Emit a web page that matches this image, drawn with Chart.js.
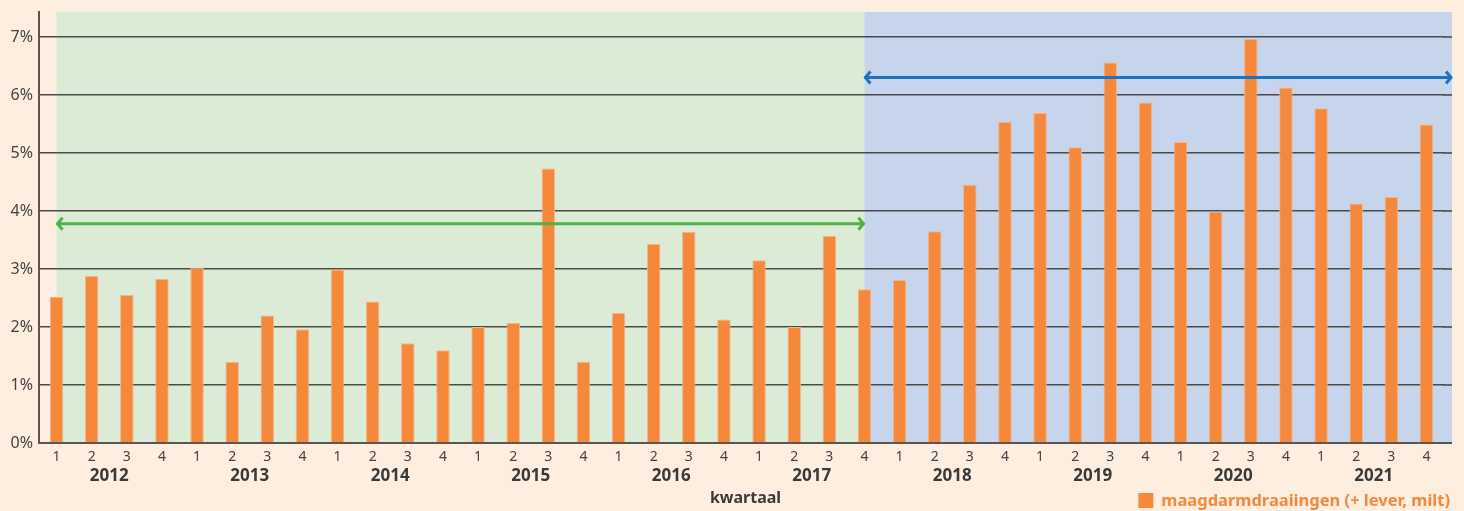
<!DOCTYPE html>
<html>
<head>
<meta charset="utf-8">
<script src="https://cdn.jsdelivr.net/npm/chart.js@4"></script>
<style>
  html, body { margin: 0; padding: 0; background: #fdeee0; }
  #wrap { width: 1464px; height: 511px; position: relative; }
</style>
</head>
<body>
<div id="wrap"><canvas id="myChart" width="1464" height="511"></canvas></div>
<script>
// kwartalen 2012 t/m 2021
const years = ['2012','2013','2014','2015','2016','2017','2018','2019','2020','2021'];
const quarters = ['1','2','3','4'];
const yTicks = [0,1,2,3,4,5,6,7];

// percentage maagdarmdraaiingen per kwartaal
const values = [
  2.52, 2.88, 2.55, 2.83,
  3.02, 1.40, 2.20, 1.96,
  2.99, 2.44, 1.72, 1.60,
  2.00, 2.07, 4.73, 1.40,
  2.24, 3.43, 3.64, 2.13,
  3.15, 2.00, 3.57, 2.65,
  2.81, 3.65, 4.45, 5.54,
  5.69, 5.10, 6.56, 5.87,
  5.19, 3.99, 6.97, 6.13,
  5.77, 4.13, 4.24, 5.49
];

// periode voor en na (index van het kwartaal waar de periode omslaat)
const splitIndex = 23;
const avgBefore = 3.78;
const avgAfter = 6.30;

const seriesLabel = 'maagdarmdraaiingen (+ lever, milt)';
const xTitle = 'kwartaal';

const labels = [];
years.forEach(y => quarters.forEach(q => labels.push(q)));

const FONT = '"Noto Sans", "Open Sans", sans-serif';
const ORANGE = '#f5883a';
const EXTRA = 8; // achtergrond en rasterlijnen lopen iets door na het laatste kwartaal

function arrow(ctx, x1, x2, y, color) {
  ctx.save();
  ctx.strokeStyle = color;
  ctx.lineWidth = 3;
  ctx.beginPath();
  ctx.moveTo(x1, y);
  ctx.lineTo(x2, y);
  ctx.stroke();
  ctx.beginPath();
  ctx.moveTo(x1 + 6, y - 6);
  ctx.lineTo(x1 + 1, y);
  ctx.lineTo(x1 + 6, y + 6);
  ctx.stroke();
  ctx.beginPath();
  ctx.moveTo(x2 - 6, y - 6);
  ctx.lineTo(x2 - 1, y);
  ctx.lineTo(x2 - 6, y + 6);
  ctx.stroke();
  ctx.restore();
}

const bgPlugin = {
  id: 'periods',
  beforeDraw(chart) {
    const {ctx, chartArea, scales} = chart;
    const x = scales.x;
    const x0 = x.getPixelForValue(0);
    const xs = x.getPixelForValue(splitIndex);
    ctx.save();
    ctx.fillStyle = '#dcebd5';
    ctx.fillRect(x0, chartArea.top, xs - x0, chartArea.bottom - chartArea.top);
    ctx.fillStyle = '#c7d5ec';
    ctx.fillRect(xs, chartArea.top, chartArea.right + EXTRA - xs, chartArea.bottom - chartArea.top);
    ctx.restore();
  },
  beforeDatasetsDraw(chart) {
    // rasterlijnen en x-as verlengen
    const {ctx, chartArea, scales} = chart;
    ctx.save();
    ctx.strokeStyle = '#4a4a4a';
    ctx.lineWidth = 1.6;
    yTicks.slice(1).forEach(v => {
      const py = scales.y.getPixelForValue(v);
      ctx.beginPath();
      ctx.moveTo(chartArea.right - 1, py);
      ctx.lineTo(chartArea.right + EXTRA, py);
      ctx.stroke();
    });
    ctx.strokeStyle = '#5a5452';
    ctx.lineWidth = 2;
    ctx.beginPath();
    ctx.moveTo(chartArea.right - 1, chartArea.bottom);
    ctx.lineTo(chartArea.right + EXTRA, chartArea.bottom);
    ctx.stroke();
    ctx.restore();
  },
  afterDatasetsDraw(chart) {
    const {ctx, chartArea, scales} = chart;
    const x = scales.x, y = scales.y;
    const x0 = x.getPixelForValue(0);
    const xs = x.getPixelForValue(splitIndex);
    arrow(ctx, x0, xs, y.getPixelForValue(avgBefore), '#52b04a');
    arrow(ctx, xs, chartArea.right + EXTRA, y.getPixelForValue(avgAfter), '#1b75bc');

    // jaartallen onder de kwartalen
    ctx.save();
    ctx.font = 'bold 17px ' + FONT;
    ctx.fillStyle = '#3a3a3a';
    ctx.textAlign = 'center';
    ctx.textBaseline = 'middle';
    years.forEach((yr, i) => {
      const cx = (x.getPixelForValue(i * 4 + 1) + x.getPixelForValue(i * 4 + 2)) / 2;
      ctx.fillText(yr, cx, chartArea.bottom + 33);
    });
    ctx.font = 'bold 16px ' + FONT;
    ctx.fillText(xTitle, (chartArea.left + chartArea.right + EXTRA) / 2, chartArea.bottom + 55);

    // legenda
    ctx.font = 'bold 16.5px ' + FONT;
    ctx.textAlign = 'right';
    ctx.fillStyle = ORANGE;
    const tx = chartArea.right + EXTRA - 2;
    const tw = ctx.measureText(seriesLabel).width;
    const ly = chartArea.bottom + 58;
    ctx.fillText(seriesLabel, tx, ly);
    ctx.fillRect(tx - tw - 23, ly - 8, 15, 15);
    ctx.restore();
  }
};

new Chart(document.getElementById('myChart'), {
  type: 'bar',
  data: {
    labels: labels,
    datasets: [{
      label: seriesLabel,
      data: values,
      backgroundColor: ORANGE,
      borderColor: '#f2b58c',
      borderWidth: 1,
      borderSkipped: 'bottom',
      barPercentage: 0.385,
      categoryPercentage: 1.0
    }]
  },
  options: {
    responsive: false,
    animation: false,
    layout: { padding: { top: 12, right: 20, left: 0, bottom: 0 } },
    plugins: {
      legend: { display: false },
      tooltip: { enabled: false }
    },
    scales: {
      x: {
        grid: { display: false, drawTicks: false },
        border: { color: '#5a5452', width: 2 },
        ticks: {
          color: '#444',
          font: { family: FONT, size: 14 },
          padding: 6,
          maxRotation: 0,
          autoSkip: false
        },
        afterFit(scale) { scale.height = 68; }
      },
      y: {
        min: 0,
        max: 7.43,
        afterBuildTicks(scale) {
          scale.ticks = yTicks.map(v => ({ value: v }));
        },
        grid: {
          color: '#4a4a4a',
          lineWidth: 1.6,
          drawTicks: false
        },
        border: { color: '#5a5452', width: 2 },
        ticks: {
          color: '#444',
          font: { family: FONT, size: 16 },
          padding: 6,
          callback: v => v + '%'
        },
        afterFit(scale) {
          scale.width = 39;
          scale.paddingTop = 0;
          scale.paddingBottom = 0;
        }
      }
    }
  },
  plugins: [bgPlugin]
});
</script>
</body>
</html>
